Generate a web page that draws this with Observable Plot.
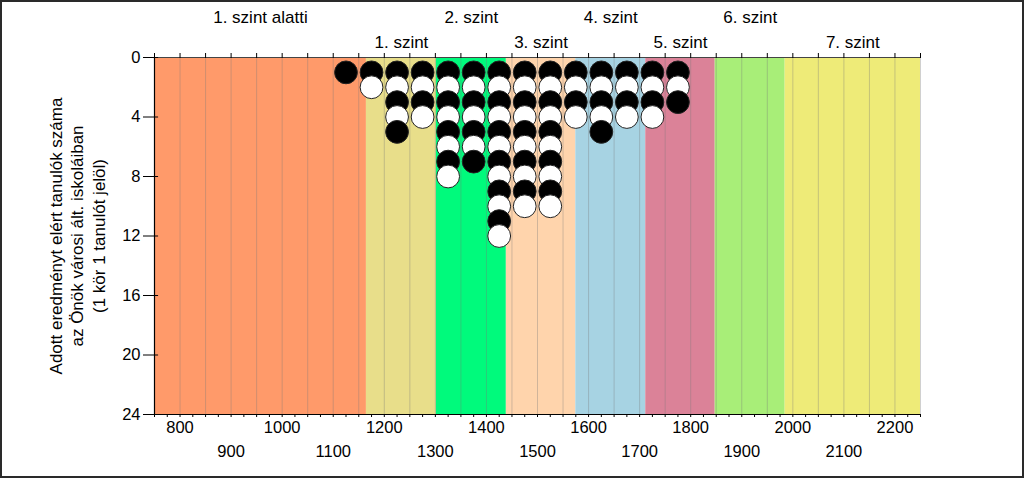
<!DOCTYPE html>
<html>
<head>
<meta charset="utf-8">
<script src="https://cdn.jsdelivr.net/npm/d3@7"></script>
<script src="https://cdn.jsdelivr.net/npm/@observablehq/plot@0.6"></script>
<style>
  html, body { margin: 0; padding: 0; background: #fff; }
  #wrap { position: relative; width: 1024px; height: 478px; overflow: hidden; }
  #frame { position: absolute; left: 0; top: 0; width: 1024px; height: 478px; box-sizing: border-box; border: 2px solid #2a2a2a; pointer-events: none; }
</style>
</head>
<body>
<div id="wrap"><div id="chart"></div><div id="frame"></div></div>
<script>
// Level bands (score ranges)
const bandStarts = [750, 1165, 1302, 1439, 1575, 1712, 1848, 1985];
const bandEnds   = [1165, 1302, 1439, 1575, 1712, 1848, 1985, 2250];
const bandLabels = ["1. szint alatti", "1. szint", "2. szint", "3. szint", "4. szint", "5. szint", "6. szint", "7. szint"];
const bandColors = ["#FF9A6A", "#E8DE8A", "#00FA7C", "#FFD4AC", "#A7D3E3", "#DB8298", "#A8EE78", "#EEEB78"];
const bandLabelRow = [1, 2, 1, 2, 1, 2, 1, 2];

// Students per 50-point bin (bin centers)
const binCenters = [1125, 1175, 1225, 1275, 1325, 1375, 1425, 1475, 1525, 1575, 1625, 1675, 1725, 1775];
const binCounts  = [1, 2, 5, 4, 8, 7, 12, 10, 10, 4, 5, 4, 4, 3];

// Tick labels
const xLabelsRow1 = [800, 1000, 1200, 1400, 1600, 1800, 2000, 2200];
const xLabelsRow2 = [900, 1100, 1300, 1500, 1700, 1900, 2100];
const yTicks = [0, 4, 8, 12, 16, 20, 24];
const yTitle = "Adott eredményt elért tanulók száma\naz Önök városi ált. iskoláiban\n(1 kör 1 tanulót jelöl)";

const bands = bandStarts.map((s, i) => ({
  x1: s, x2: bandEnds[i], label: bandLabels[i], color: bandColors[i], row: bandLabelRow[i], mid: (s + bandEnds[i]) / 2
}));

const dots = [];
binCenters.forEach((c, i) => {
  for (let k = 1; k <= binCounts[i]; k++) dots.push({x: c, y: k, fill: k % 2 === 1 ? "black" : "white"});
});

const grid = d3.range(800, 2251, 50);
const topTicks = d3.range(750, 2251, 50);
const bottomTicks = d3.range(750, 2251, 25);

const chart = Plot.plot({
  width: 1024,
  height: 478,
  marginLeft: 154,
  marginRight: 104,
  marginTop: 57,
  marginBottom: 64,
  style: {fontFamily: "'Liberation Sans', Arial, sans-serif", fontSize: "16px", color: "black", background: "white"},
  x: {domain: [750, 2250]},
  y: {domain: [0, 24], reverse: true},
  marks: [
    Plot.rect(bands, {x1: "x1", x2: "x2", y1: 0, y2: 24, fill: "color"}),
    Plot.ruleX(grid, {y1: 0, y2: 24, stroke: "#777", strokeOpacity: 0.35, strokeWidth: 1}),
    Plot.ruleY([0], {x1: 750, x2: 2250, stroke: "#444", strokeWidth: 1}),
    Plot.axisX({anchor: "top", ticks: topTicks, tickSize: 5, tickFormat: () => "", label: null}),
    Plot.axisX({anchor: "bottom", ticks: bottomTicks, tickSize: 3, tickFormat: () => "", label: null}),
    Plot.axisX({anchor: "bottom", ticks: xLabelsRow1, tickSize: 0, tickPadding: 7, fontSize: 16.5, label: null, tickFormat: d => String(d)}),
    Plot.axisX({anchor: "bottom", ticks: xLabelsRow2, tickSize: 0, tickPadding: 31, fontSize: 16.5, label: null, tickFormat: d => String(d)}),
    Plot.axisY({ticks: yTicks, tickSize: 11, tickPadding: 3, fontSize: 16.5, label: null}),
    Plot.ruleY(yTicks, {x1: 750, x2: 758, stroke: "black"}),
    Plot.ruleY([24], {x1: 736, x2: 2250, stroke: "black", strokeWidth: 1.2}),
    Plot.ruleX([750], {y1: 0, y2: 24, stroke: "black", strokeWidth: 1.2}),
    Plot.text(bands.filter(d => d.row === 1), {x: "mid", text: "label", frameAnchor: "top", dy: -40, fontSize: 17, lineAnchor: "middle"}),
    Plot.text(bands.filter(d => d.row === 2), {x: "mid", text: "label", frameAnchor: "top", dy: -15, fontSize: 17, lineAnchor: "middle"}),
    Plot.text([yTitle], {x: 750, y: 12, text: d => d, rotate: -90, dx: -78, fontSize: 17, lineHeight: 1.25, textAnchor: "middle", lineAnchor: "middle"}),
    Plot.dot(dots, {x: "x", y: "y", r: 11.4, fill: "fill", stroke: "#222", strokeWidth: 1})
  ]
});
document.getElementById("chart").appendChild(chart);
</script>
</body>
</html>
